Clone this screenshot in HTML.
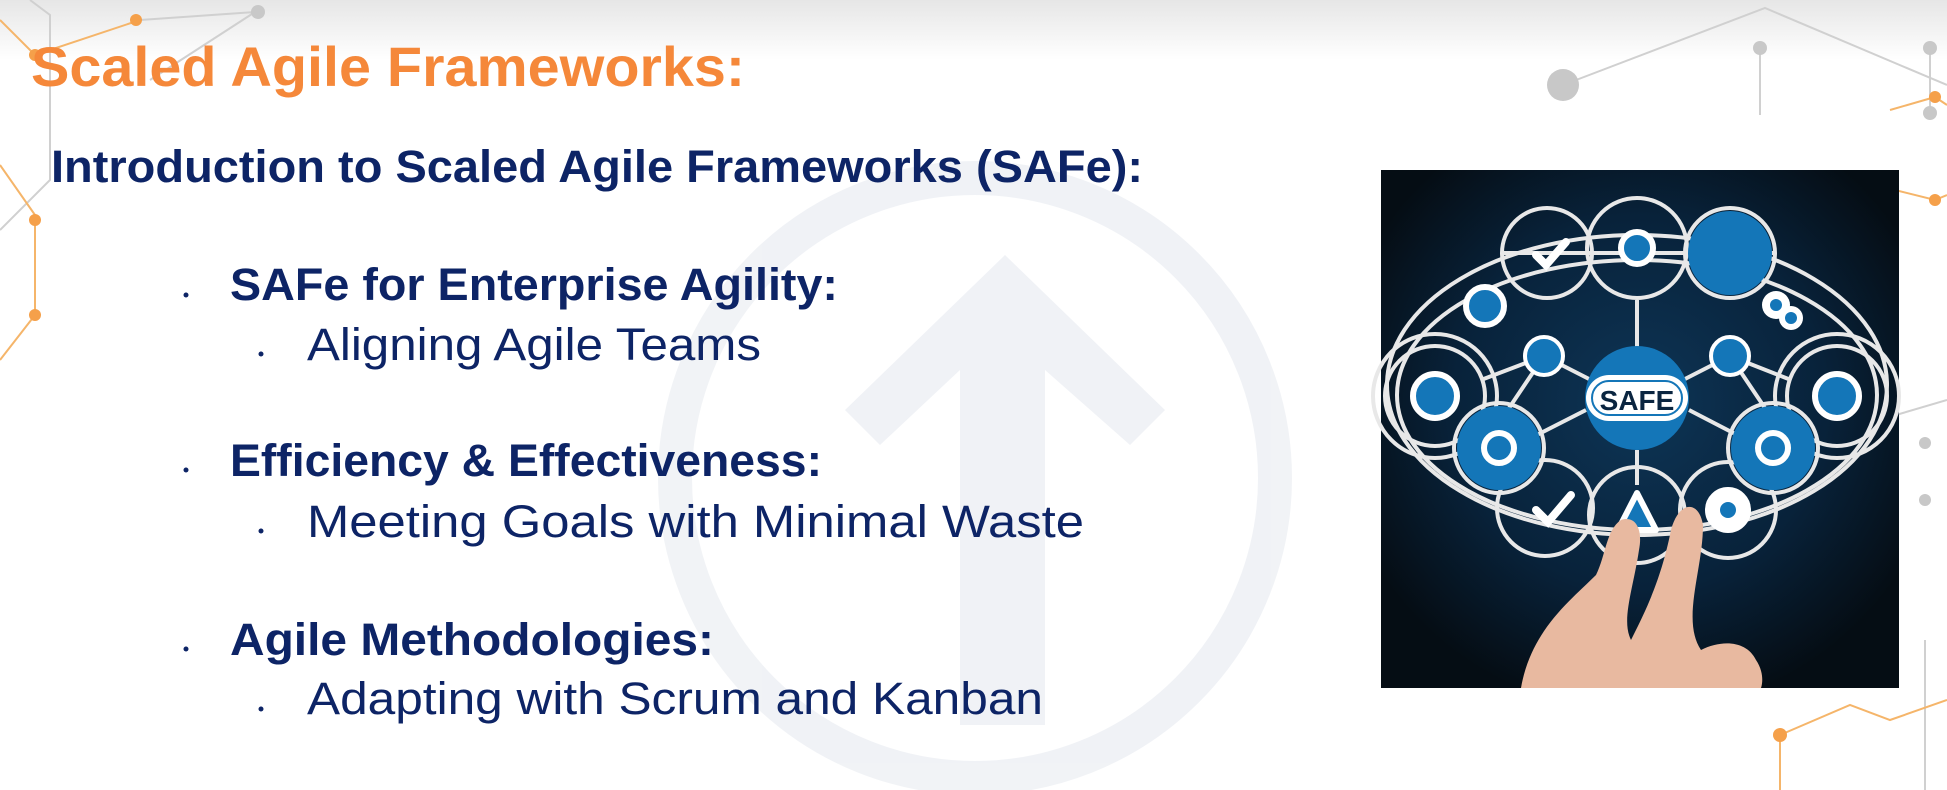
<!DOCTYPE html>
<html><head><meta charset="utf-8"><style>
html,body{margin:0;padding:0;width:1947px;height:790px;overflow:hidden;background:#fff}
svg{display:block}
text{font-family:"Liberation Sans",sans-serif}
</style></head><body>
<svg width="1947" height="790" viewBox="0 0 1947 790" xmlns="http://www.w3.org/2000/svg">
<defs>
<linearGradient id="top" x1="0" y1="0" x2="0" y2="1"><stop offset="0" stop-color="#e6e6e6"/><stop offset="1" stop-color="#ffffff"/></linearGradient>
<radialGradient id="bg" cx="0.5" cy="0.45" r="0.6"><stop offset="0" stop-color="#0e3556"/><stop offset="0.6" stop-color="#08223a"/><stop offset="1" stop-color="#050d14"/></radialGradient>
</defs>
<rect width="1947" height="790" fill="#fff"/>
<rect width="1947" height="60" fill="url(#top)"/>
<g stroke="#d0d0d0" stroke-width="2" fill="none">
<polyline points="30,0 50,15 50,180 0,230"/>
<polyline points="140,20 255,12 150,80"/>
<polyline points="1563,85 1765,8 1947,85"/>
<line x1="1760" y1="48" x2="1760" y2="115"/>
<line x1="1930" y1="48" x2="1930" y2="115"/>
<polyline points="1845,430 1947,400"/>
<line x1="1925" y1="640" x2="1925" y2="790"/>
</g>
<g stroke="#f5b56a" stroke-width="2" fill="none">
<polyline points="0,20 35,55 140,20"/>
<polyline points="0,165 35,215 35,315 0,360"/>
<polyline points="1890,110 1935,97 1947,105"/>
<polyline points="1895,190 1935,200 1947,195"/>
<polyline points="1780,735 1850,705 1890,720 1947,700"/>
<line x1="1780" y1="735" x2="1780" y2="790"/>
</g>
<g fill="#c8c8c8"><circle cx="1563" cy="85" r="16"/><circle cx="1760" cy="48" r="7"/><circle cx="1930" cy="48" r="7"/><circle cx="1930" cy="113" r="7"/><circle cx="258" cy="12" r="7"/><circle cx="1925" cy="443" r="6"/><circle cx="1925" cy="500" r="6"/></g>
<g fill="#f5a04a"><circle cx="35" cy="55" r="6"/><circle cx="35" cy="220" r="6"/><circle cx="35" cy="315" r="6"/><circle cx="136" cy="20" r="6"/><circle cx="1935" cy="97" r="6"/><circle cx="1935" cy="200" r="6"/><circle cx="1780" cy="735" r="7"/></g>
<g opacity="0.45">
<circle cx="975" cy="478" r="300" fill="none" stroke="#dfe4ec" stroke-width="34"/>
<polygon points="1005,255 1165,410 1130,445 1045,370 1045,725 960,725 960,370 880,445 845,410" fill="#dfe4ec"/>
</g>
<text x="31" y="86" font-size="56" font-weight="bold" fill="#f5883a" textLength="714" lengthAdjust="spacingAndGlyphs">Scaled Agile Frameworks:</text>
<text x="51" y="182" font-size="45" font-weight="bold" fill="#0d2466" textLength="1092" lengthAdjust="spacingAndGlyphs">Introduction to Scaled Agile Frameworks (SAFe):</text>
<g fill="#0d2466">
<circle cx="186" cy="295" r="2.5"/><circle cx="261" cy="354" r="2.5"/>
<circle cx="186" cy="470" r="2.5"/><circle cx="261" cy="531" r="2.5"/>
<circle cx="186" cy="649" r="2.5"/><circle cx="261" cy="709" r="2.5"/>
<text x="230" y="300" font-size="45" font-weight="bold" textLength="608" lengthAdjust="spacingAndGlyphs">SAFe for Enterprise Agility:</text>
<text x="307" y="360" font-size="45" textLength="454" lengthAdjust="spacingAndGlyphs">Aligning Agile Teams</text>
<text x="230" y="476" font-size="45" font-weight="bold" textLength="592" lengthAdjust="spacingAndGlyphs">Efficiency &amp; Effectiveness:</text>
<text x="307" y="537" font-size="45" textLength="777" lengthAdjust="spacingAndGlyphs">Meeting Goals with Minimal Waste</text>
<text x="230" y="655" font-size="45" font-weight="bold" textLength="484" lengthAdjust="spacingAndGlyphs">Agile Methodologies:</text>
<text x="307" y="714" font-size="45" textLength="736" lengthAdjust="spacingAndGlyphs">Adapting with Scrum and Kanban</text>
</g>
<g transform="translate(1381,170)">
<rect width="518" height="518" fill="url(#bg)"/>
<g fill="none" stroke="#e8e8e8" stroke-width="4">
<ellipse cx="256" cy="215" rx="250" ry="150"/>
<ellipse cx="256" cy="225" rx="240" ry="135"/>
<circle cx="166" cy="83" r="45"/><circle cx="256" cy="78" r="50"/><circle cx="349" cy="83" r="45"/>
<circle cx="54" cy="226" r="50"/><circle cx="54" cy="226" r="62"/>
<circle cx="456" cy="226" r="50"/><circle cx="456" cy="226" r="62"/>
<circle cx="118" cy="278" r="45"/><circle cx="392" cy="278" r="45"/>
<circle cx="164" cy="338" r="48"/><circle cx="256" cy="345" r="48"/><circle cx="347" cy="340" r="48"/>
<line x1="256" y1="130" x2="256" y2="180"/><line x1="256" y1="280" x2="256" y2="315"/>
<line x1="163" y1="186" x2="100" y2="210"/><line x1="349" y1="186" x2="410" y2="210"/>
<line x1="163" y1="186" x2="210" y2="210"/><line x1="349" y1="186" x2="302" y2="210"/>
<line x1="163" y1="186" x2="120" y2="250"/><line x1="349" y1="186" x2="392" y2="250"/>
<line x1="150" y1="268" x2="205" y2="240"/><line x1="362" y1="268" x2="308" y2="240"/>
<line x1="120" y1="83" x2="395" y2="83"/>
</g>
<g fill="#1476b8">
<circle cx="349" cy="83" r="42"/><circle cx="118" cy="278" r="42"/><circle cx="392" cy="278" r="42"/>
<circle cx="256" cy="228" r="52"/>
</g>
<rect x="205" y="205" width="102" height="46" rx="23" fill="#fff"/>
<rect x="211" y="211" width="90" height="34" rx="17" fill="#fff" stroke="#1476b8" stroke-width="2"/>
<text x="256" y="240" font-size="28" font-weight="bold" fill="#0a2540" text-anchor="middle">SAFE</text>
<g fill="#1476b8" stroke="#fff" stroke-width="6">
<circle cx="256" cy="78" r="16"/><circle cx="104" cy="136" r="19"/>
<circle cx="54" cy="226" r="22"/><circle cx="456" cy="226" r="22"/>
<circle cx="118" cy="278" r="15"/><circle cx="392" cy="278" r="15"/>
<circle cx="163" cy="186" r="19" stroke-width="4"/><circle cx="349" cy="186" r="19" stroke-width="4"/>
<circle cx="347" cy="340" r="20" fill="#fff"/>
</g>
<g fill="none" stroke="#fff" stroke-width="8" stroke-linecap="round">
<polyline points="155,85 165,95 185,72"/><polyline points="155,340 167,352 190,325"/>
</g>
<polygon points="256,323 275,360 237,360" fill="#1476b8" stroke="#fff" stroke-width="6" stroke-linejoin="round"/>
<circle cx="347" cy="340" r="8" fill="#1476b8"/>
<g fill="#fff"><circle cx="395" cy="135" r="14"/><circle cx="410" cy="148" r="12"/></g>
<g fill="#1476b8"><circle cx="395" cy="135" r="6"/><circle cx="410" cy="148" r="6"/></g>
<path d="M140,518 C150,460 190,430 215,405 C225,385 225,360 240,350 C255,345 262,360 258,380 C252,420 240,450 250,470 C265,440 280,410 290,360 C298,330 318,330 322,355 C322,400 300,450 320,480 C340,470 365,470 375,490 C385,505 380,518 380,518 Z" fill="#e8b9a0"/>
</g>
</svg>
</body></html>
